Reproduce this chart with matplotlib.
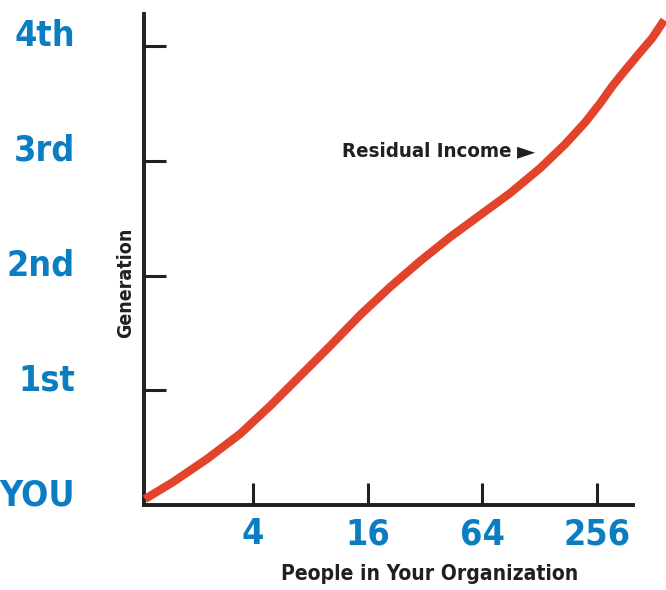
import matplotlib
matplotlib.use("Agg")
import matplotlib.pyplot as plt
from matplotlib import font_manager

# data (x = log4 of people, y = generation)
curve_x = [0.058, 0.303, 0.599, 0.887, 1.149, 1.410, 1.672, 1.934, 2.195, 2.457, 2.719,
           2.980, 3.242, 3.504, 3.722, 3.896, 4.027, 4.132, 4.245, 4.376, 4.480, 4.585]
curve_y = [0.052, 0.200, 0.401, 0.619, 0.863, 1.124, 1.386, 1.656, 1.900, 2.126, 2.336,
           2.527, 2.719, 2.937, 3.146, 3.336, 3.503, 3.651, 3.791, 3.948, 4.070, 4.227]
gen_ticks = [0, 1, 2, 3, 4]
gen_labels = ["YOU", "1st", "2nd", "3rd", "4th"]
people_ticks = [1, 2, 3, 4]
people_labels = ["4", "16", "64", "256"]

BLUE = "#0b7dc3"
RED = "#e4432b"
INK = "#231f20"

# pick a narrow bold face if one is installed
prefs = [("liberationsansnarrow-bold.", 1.0), ("notosans-condensedbold", 0.97),
         ("dejavusanscondensed-bold", 0.78), ("opensans-condensedbold", 0.9)]
font_file, scale = None, 0.68
files = [f.fname for f in font_manager.fontManager.ttflist]
for key, sc in prefs:
    hit = [f for f in files if key in f.lower().replace("_", "").replace(" ", "")]
    if hit:
        font_file, scale = hit[0], sc
        break


def fp(size):
    if font_file:
        return font_manager.FontProperties(fname=font_file, size=size * scale)
    return font_manager.FontProperties(family="DejaVu Sans", weight="bold", size=size * scale)


fig = plt.figure(figsize=(6.66, 5.90), dpi=100)
ax = fig.add_axes([144 / 666, 85 / 590, 522 / 666, 491 / 590])

ax.plot(curve_x, curve_y, color=RED, lw=6, solid_capstyle="butt",
        solid_joinstyle="round", clip_on=False, zorder=3)

ax.set_xlim(0.05, 4.6)
ax.set_ylim(0, 4.28)

for s in ["top", "right"]:
    ax.spines[s].set_visible(False)
for s in ["left", "bottom"]:
    ax.spines[s].set_linewidth(2.8)
    ax.spines[s].set_color(INK)
ax.spines["bottom"].set_bounds(0.05, 4.31)

ax.set_yticks(gen_ticks[1:], labels=[""] * 4)
ax.set_xticks(people_ticks, labels=people_labels)
ax.tick_params(axis="both", direction="in", length=16, width=2.2, color=INK)
ax.tick_params(axis="x", pad=9, labelcolor=BLUE)
for t in ax.get_xticklabels():
    t.set_fontproperties(fp(33))

# generation labels, baseline on the tick
for g, lab in zip(gen_ticks, gen_labels):
    ax.text(-0.55, g, lab, color=BLUE, fontproperties=fp(33), ha="right", va="baseline")

ax.set_xlabel("People in Your Organization", fontproperties=fp(19.4), color=INK)
ax.xaxis.label.set_va("center")
ax.xaxis.set_label_coords((430 - 144) / 522, -(574 - 505) / 491)
ax.set_ylabel("Generation", fontproperties=fp(18), color=INK)
ax.yaxis.label.set_va("center")
ax.yaxis.set_label_coords(-(144 - 126) / 522, (505 - 283) / 491)

ax.text(1.78, 3.08, "Residual Income", fontproperties=fp(18.8), color=INK,
        ha="left", va="center")
ax.text(3.30, 3.08, "\u25ba", fontsize=17, family="DejaVu Sans", color=INK,
        ha="left", va="center")

fig.savefig("out.png", dpi=100)
